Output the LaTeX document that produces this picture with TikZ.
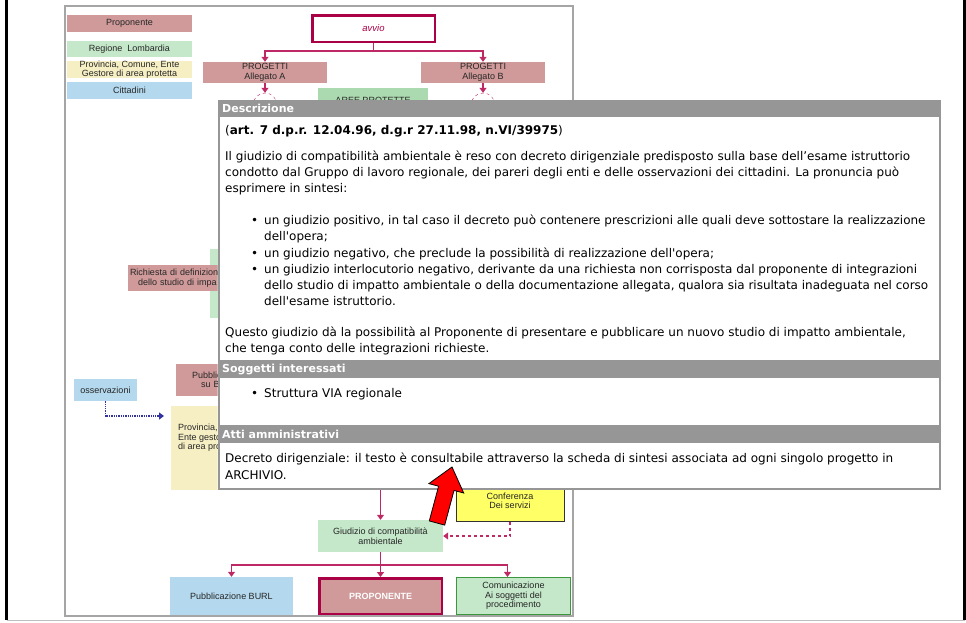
\documentclass[tikz,border=0pt]{standalone}
\usepackage{fontspec}
\setmainfont{Liberation Sans}
\newfontfamily\popfont[Ligatures=TeXOff]{DejaVu Sans}
\usetikzlibrary{arrows.meta,positioning,calc}
\definecolor{prop}{RGB}{208,154,154}
\definecolor{regione}{RGB}{197,232,202}
\definecolor{aree}{RGB}{172,218,176}
\definecolor{provincia}{RGB}{246,239,196}
\definecolor{cittadini}{RGB}{180,217,238}
\definecolor{flow}{RGB}{190,40,100}
\definecolor{avvio}{RGB}{170,0,70}
\definecolor{conf}{RGB}{255,255,102}
\definecolor{popgray}{RGB}{150,150,150}
\definecolor{frame}{RGB}{165,165,165}
\definecolor{obs}{RGB}{50,50,160}
\definecolor{comgreen}{RGB}{60,150,60}
\newcommand{\vbul}{\makebox[39pt][r]{\textbullet\hspace{6pt}}}

\begin{document}
\begin{tikzpicture}[x=1pt,y=-1pt,>={Triangle[width=7pt,length=5pt]},font=\fontsize{9}{9.5}\selectfont,
  box/.style={minimum width=125,minimum height=17,inner sep=0pt,align=center,text=black!85},
  flow/.style={draw=flow,line width=1.3pt},
  pane/.style={draw=popgray,line width=1.5pt,fill=white,anchor=north west,minimum width=721},
  head/.style={fill=popgray,text=white,anchor=north west,minimum height=17,text width=713,inner xsep=4pt,inner ysep=0pt,align=left,font=\fontsize{11}{12}\selectfont\popfont\bfseries},
  body/.style={anchor=north west,inner sep=0pt,align=left,font=\fontsize{12}{16.2}\selectfont\popfont}]
\useasboundingbox (0,0) rectangle (966,622);

% page and frame
\draw[line width=3pt] (6.5,0) -- (6.5,620);
\draw[line width=3pt] (964.5,0) -- (964.5,620);
\draw[black!25,line width=1pt] (6.5,620.5) -- (964.5,620.5);
\draw[frame,line width=2pt] (65,5.5) rectangle (573,616);

% legend
\node(lprop)[box,fill=prop] at (129.5,23){Proponente};
\node(lreg)[box,fill=regione,minimum height=16] at (129.5,49){Regione\ \ Lombardia};
\node(lprov)[box,fill=provincia,font=\fontsize{9}{8.5}\selectfont] at (129.5,69.5){Provincia, Comune, Ente\\Gestore di area protetta};
\node(lcit)[box,fill=cittadini] at (129.5,90.5){Cittadini};

% flow chart
\node(avvio)[box,draw=avvio,line width=2.5pt,minimum width=122.5,minimum height=26.5,font=\fontsize{9.5}{10}\selectfont\itshape,text=avvio] at (373.5,28.5){avvio};
\node(progA)[box,fill=prop,minimum width=124,minimum height=21] at (265,72.5){PROGETTI\\Allegato A};
\node(progB)[box,fill=prop,minimum width=124,minimum height=21] at (483,72.5){PROGETTI\\Allegato B};
\node(decA)[circle,draw=flow,dashed,minimum size=24] at (265,105){};
\node(decB)[circle,draw=flow,dashed,minimum size=24] at (483,105){};
\node(aree)[box,fill=aree,minimum width=110,minimum height=24] at (373,100){AREE PROTETTE};
\node(studio)[fill=regione,minimum width=120,minimum height=69] at (270,283.5){};
\begin{scope}
\clip (65,240) rectangle (217.5,500);
\node(richiesta)[box,fill=prop,minimum width=172,minimum height=26,text width=168,inner xsep=2pt,align=left] at (214,278){Richiesta di definizion\\\hspace*{8pt}dello studio di impa};
\node(pubbl)[box,fill=prop,minimum width=76,minimum height=32,text width=44,inner xsep=16pt,align=left] at (214,380){Pubblica\\\hspace*{9pt}su BU};
\node(provbox)[fill=provincia,minimum width=100,minimum height=84,anchor=north west] at (171,406){};
\node(provtext)[anchor=north west,align=left,inner sep=0pt,text=black!85] at (178,424){Provincia, C\\Ente gesto\\di area pro};
\end{scope}
\node(oss)[box,fill=cittadini,minimum width=63,minimum height=22] at (105.5,390){osservazioni};
\coordinate(inG) at (380.5,470);
\node(giud)[box,fill=regione,minimum width=125,minimum height=32] at (380.5,536){Giudizio di compatibilità\\ambientale};
\node(conf)[box,fill=conf,draw=black!80,line width=1pt,minimum width=108,minimum height=40] at (510,501){Conferenza\\Dei servizi};
\node(burl)[box,fill=cittadini,minimum width=123,minimum height=38] at (231.5,596){Pubblicazione BURL};
\node(prop)[box,fill=prop,draw=avvio,line width=2.5pt,minimum width=122.5,minimum height=35.5,text=white,font=\fontsize{9}{9.5}\selectfont\bfseries] at (380.5,596){PROPONENTE};
\node(com)[box,fill=regione,draw=comgreen,line width=1.2pt,minimum width=114,minimum height=37] at (513.5,596){Comunicazione\\Ai soggetti del\\procedimento};

% Arrows
\coordinate(split1) at (373.5,51);
\draw[flow] (avvio.south) -- (split1);
\draw[flow,->] (split1) -| (progA.north);
\draw[flow,->] (split1) -| (progB.north);
\draw[flow,->] (progA.south) -- (decA.north);
\draw[flow,->] (progB.south) -- (decB.north);
\coordinate(ossend) at (164,416);
\draw[obs,line width=1.3pt,densely dotted,->] (oss.south) |- (ossend);
\draw[flow,->] (inG) -- (giud.north);
\draw[flow,dashed,->] (conf.south) |- (giud.east);
\coordinate(split2) at (380.5,565);
\draw[flow] (giud.south) -- (split2);
\draw[flow,->] (split2) -| (burl.north);
\draw[flow,->] (split2) -- (prop.north);
\draw[flow,->] (split2) -| ([xshift=-6pt]com.north);

% popup
\node(pdescr)[pane,minimum height=260] at (218,100){};
\node(hdescr)[head] at (pdescr.north west){Descrizione};
\node(psogg)[pane,minimum height=64] at (218,361){};
\node(hsogg)[head] at (psogg.north west){Soggetti interessati};
\node(patti)[pane,minimum height=62] at (218,426){};
\node(hatti)[head] at (patti.north west){Atti amministrativi};

\node(tdescr)[body] at (225,125){(\textbf{art. 7 d.p.r. 12.04.96, d.g.r 27.11.98, n.VI/39975})\\[9.8pt]
Il giudizio di compatibilità ambientale è reso con decreto dirigenziale predisposto sulla base dell’esame istruttorio\\
condotto dal Gruppo di lavoro regionale, dei pareri degli enti e delle osservazioni dei cittadini. La pronuncia può\\
esprimere in sintesi:\\[15.8pt]
\vbul un giudizio positivo, in tal caso il decreto può contenere prescrizioni alle quali deve sottostare la realizzazione\\
\hspace*{39pt}dell'opera;\\
\vbul un giudizio negativo, che preclude la possibilità di realizzazione dell'opera;\\
\vbul un giudizio interlocutorio negativo, derivante da una richiesta non corrisposta dal proponente di integrazioni\\
\hspace*{39pt}dello studio di impatto ambientale o della documentazione allegata, qualora sia risultata inadeguata nel corso\\
\hspace*{39pt}dell'esame istruttorio.\\[14.8pt]
Questo giudizio dà la possibilità al Proponente di presentare e pubblicare un nuovo studio di impatto ambientale,\\
che tenga conto delle integrazioni richieste.};
\node(tsogg)[body] at (225,388){\vbul Struttura VIA regionale};
\node(tatti)[body] at (225,453){Decreto dirigenziale: il testo è consultabile attraverso la scheda di sintesi associata ad ogni singolo progetto in\\
ARCHIVIO.};

% pointer
\filldraw[fill=red,draw=black,line width=0.8pt] (429.3,520.9) -- (438.6,486.2) -- (428.9,483.6) -- (452,467) -- (463.7,493.0) -- (454.0,490.4) -- (444.7,525.1) -- cycle;
\end{tikzpicture}
\end{document}
